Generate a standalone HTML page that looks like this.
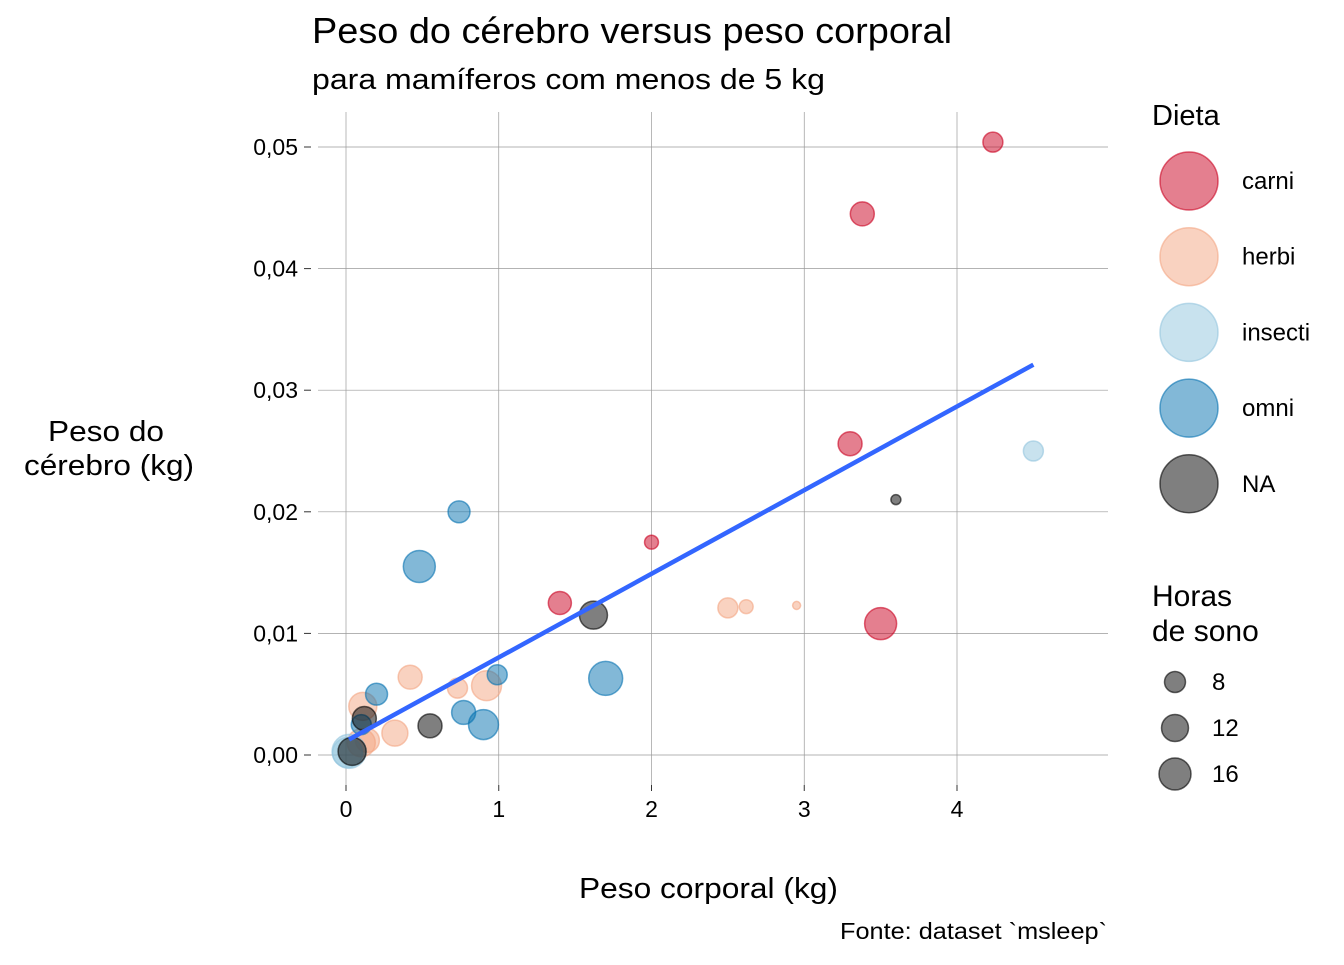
<!DOCTYPE html>
<html><head><meta charset="utf-8"><style>
body{margin:0;background:#fff;font-family:"Liberation Sans",sans-serif}
svg text{font-family:"Liberation Sans",sans-serif}
</style></head><body>
<svg id="chart" width="1344" height="960" xmlns="http://www.w3.org/2000/svg">
<text x="312" y="43" font-size="36" fill="#000" textLength="640" lengthAdjust="spacingAndGlyphs">Peso do cérebro versus peso corporal</text>
<text x="312" y="89" font-size="29" fill="#000" textLength="513" lengthAdjust="spacingAndGlyphs">para mamíferos com menos de 5 kg</text>
<g id="grid"></g>
<g id="axes"></g>
<g id="points"></g>
<g id="trend"></g>
<text x="579" y="898" font-size="29" textLength="259" lengthAdjust="spacingAndGlyphs">Peso corporal (kg)</text>
<text font-size="29"><tspan x="48" y="441" textLength="116" lengthAdjust="spacingAndGlyphs">Peso do</tspan><tspan x="24" y="475" textLength="170" lengthAdjust="spacingAndGlyphs">cérebro (kg)</tspan></text>
<text x="840" y="939" font-size="23" textLength="267" lengthAdjust="spacingAndGlyphs">Fonte: dataset `msleep`</text>
<g id="legend"></g>
</svg>
<script>
const diets=["carni","herbi","insecti","omni","NA"];
const dietColors={carni:"#CA0020",herbi:"#F4A582",insecti:"#92C5DE",omni:"#0571B0",NA:"#000000"};
const bodyWt=[4.235,3.38,3.3,2.0,1.4,3.5, 2.5,2.62,2.95,0.42,0.73,0.92,0.11,0.32,0.14,0.10, 4.5,0.02,0.01, 0.74,0.48,0.2,0.99,0.77,0.9,1.7,0.1, 3.6,1.62,0.55,0.12,0.04];
const brainWt=[0.0504,0.0445,0.0256,0.0175,0.0125,0.0108, 0.0121,0.0122,0.0123,0.0064,0.0055,0.0057,0.0040,0.0018,0.0012,0.0010, 0.025,0.0003,0.0002, 0.020,0.0155,0.005,0.0066,0.0035,0.0025,0.0063,0.0025, 0.021,0.0115,0.0024,0.003,0.0003];
const pointDiet=["carni","carni","carni","carni","carni","carni","herbi","herbi","herbi","herbi","herbi","herbi","herbi","herbi","herbi","herbi","insecti","insecti","insecti","omni","omni","omni","omni","omni","omni","omni","omni","NA","NA","NA","NA","NA"];
const sleepHrs=[7.4,9.9,9.9,4.3,9.3,16, 7.4,4.3,2.1,9.9,7.4,14.3,12.8,11.3,9.9,12.8, 7.4,17.7,14.3, 8.6,16,8.6,7.4,9.9,14.3,17.7,7.4, 2.75,12.8,9.9,9.9,12.8];
const xTicks=[0,1,2,3,4];
const yTicks=[0,0.01,0.02,0.03,0.04,0.05];
const yTickLabels=["0,00","0,01","0,02","0,03","0,04","0,05"];
const trendX=[0.02,4.5];
const trendIntercept=0.00114;
const trendSlope=0.00688;
const sizeBreaks=[8,12,16];

const NS="http://www.w3.org/2000/svg";
const X=v=>346+v*152.75;
const Y=v=>755-v*12160;
const R=s=>4.7*Math.sqrt(s)-2.8;
function mk(p,t,a){const e=document.createElementNS(NS,t);for(const k in a)e.setAttribute(k,a[k]);document.getElementById(p).appendChild(e);return e;}

xTicks.forEach((t,i)=>{const l=mk("grid","line",{x1:X(t),x2:X(t),y1:112,y2:785,stroke:"#9a9a9a","stroke-width":0.7});


const tk=mk("axes","line",{x1:X(t),x2:X(t),y1:785,y2:791,stroke:"#333","stroke-width":1});


const tx=mk("axes","text",{x:X(t),y:817,"font-size":23,"text-anchor":"middle"});tx.textContent=t;

});
yTicks.forEach((t,i)=>{const l=mk("grid","line",{x1:318,x2:1108,y1:Y(t),y2:Y(t),stroke:"#9a9a9a","stroke-width":0.7});


const tk=mk("axes","line",{x1:304,x2:311,y1:Y(t),y2:Y(t),stroke:"#333","stroke-width":1});


const tx=mk("axes","text",{x:298,y:Y(t)+8,"font-size":23,"text-anchor":"end"});tx.textContent=yTickLabels[i];

});

bodyWt.forEach((b,i)=>{const c=dietColors[pointDiet[i]];
const e=mk("points","circle",{cx:X(b),cy:Y(brainWt[i]),r:R(sleepHrs[i]),fill:c,"fill-opacity":0.5,stroke:c,"stroke-opacity":0.6,"stroke-width":1.5});

});

const tl=mk("trend","line",{x1:X(trendX[0]),y1:Y(trendIntercept+trendSlope*trendX[0]),x2:X(trendX[1]),y2:Y(trendIntercept+trendSlope*trendX[1]),stroke:"#3366FF","stroke-width":4.5});



const lt=mk("legend","text",{x:1152,y:125,"font-size":29});lt.textContent="Dieta";


diets.forEach((d,i)=>{const cy=181+i*75.7;const c=dietColors[d];
const e=mk("legend","circle",{cx:1189,cy:cy,r:29,fill:c,"fill-opacity":0.5,stroke:c,"stroke-opacity":0.6,"stroke-width":1.5});


const t=mk("legend","text",{x:1242,y:cy+8,"font-size":24});t.textContent=d;

});
const st=mk("legend","text",{x:1152,y:606,"font-size":30});st.textContent="Horas";


const st2=mk("legend","text",{x:1152,y:641,"font-size":30});st2.textContent="de sono";


sizeBreaks.forEach((s,i)=>{const cy=682+i*46;
const e=mk("legend","circle",{cx:1175,cy:cy,r:R(s),fill:"#000","fill-opacity":0.5,stroke:"#000","stroke-opacity":0.6,"stroke-width":1.5});


const t=mk("legend","text",{x:1212,y:cy+8,"font-size":24});t.textContent=s;

});
</script>
</body></html>
